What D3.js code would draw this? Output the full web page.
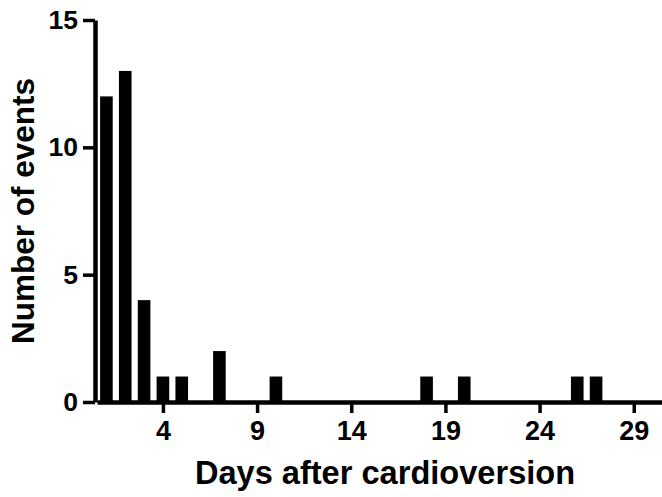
<!DOCTYPE html>
<html>
<head>
<meta charset="utf-8">
<script src="https://cdn.jsdelivr.net/npm/d3@7"></script>
<style>
  body { margin: 0; background: #fff; }
  text { font-family: "Liberation Sans", Arial, sans-serif; font-weight: bold; }
</style>
</head>
<body>
<svg id="chart"></svg>
<script>
// days after cardioversion and number of events on that day
const days = [1, 2, 3, 4, 5, 7, 10, 18, 20, 26, 27];
const events = [12, 13, 4, 1, 1, 2, 1, 1, 1, 1, 1];
const xTicks = [4, 9, 14, 19, 24, 29];
const yTicks = [0, 5, 10, 15];

const width = 662;
const height = 497;

const svg = d3.select("#chart")
    .attr("width", width)
    .attr("height", height);

const xScale = d3.scaleLinear()
    .domain([0.5, 30.5])
    .range([97, 662]);
const yScale = d3.scaleLinear()
    .domain([0, 15])
    .range([402, 20]);

const band = xScale(1.5) - xScale(0.5);
const barWidth = band * 0.67;

svg.selectAll("rect.bar")
    .data(days)
    .enter()
    .append("rect")
    .attr("class", "bar")
    .attr("x", (d) => xScale(d) - barWidth / 2)
    .attr("y", (d, i) => yScale(events[i]))
    .attr("width", barWidth)
    .attr("height", (d, i) => yScale(0) - yScale(events[i]))
    .style("fill", "#000");

// x axis
const xAxis = d3.axisBottom(xScale)
    .tickValues(xTicks)
    .tickSize(11)
    .tickPadding(8)
    .tickSizeOuter(0);
const gx = svg.append("g")
    .attr("transform", `translate(0, ${yScale(0)})`)
    .call(xAxis);
gx.select(".domain").attr("stroke-width", 4.5);
gx.selectAll(".tick line").attr("stroke-width", 3.5);
gx.selectAll(".tick text").attr("font-size", 27).attr("fill", "#000");

// y axis
const yAxis = d3.axisLeft(yScale)
    .tickValues(yTicks)
    .tickSize(12)
    .tickPadding(5)
    .tickSizeOuter(0);
const gy = svg.append("g")
    .attr("transform", `translate(95, 0)`)
    .call(yAxis);
gy.select(".domain").attr("stroke-width", 4.5);
gy.selectAll(".tick line").attr("stroke-width", 3.5);
gy.selectAll(".tick text").attr("font-size", 26.5).attr("fill", "#000");

svg.append("text")
    .attr("x", 385)
    .attr("y", 484)
    .attr("text-anchor", "middle")
    .attr("font-size", 32.6)
    .text("Days after cardioversion");

svg.append("text")
    .attr("transform", "translate(34, 211) rotate(-90)")
    .attr("text-anchor", "middle")
    .attr("font-size", 31.5)
    .text("Number of events");
</script>
</body>
</html>
